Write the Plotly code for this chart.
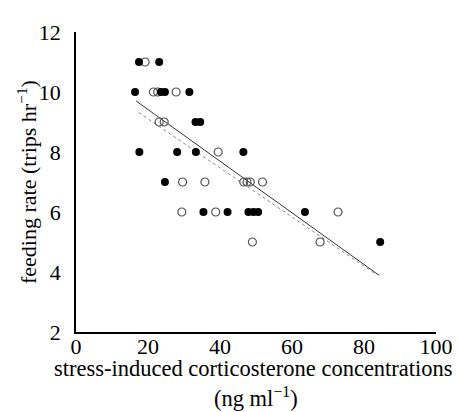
import plotly.graph_objects as go

# filled symbols
filled_x = [17.5, 23.1, 16.4, 23.6, 24.7, 31.5, 33.2, 34.5, 17.6, 28.1, 33.3, 46.5,
            24.7, 35.4, 42.1, 47.9, 49.3, 50.6, 63.6, 84.5]
filled_y = [11, 11, 10, 10, 10, 10, 9, 9, 8, 8, 8, 8,
            7, 6, 6, 6, 6, 6, 6, 5]
# open symbols
open_x = [19.2, 21.5, 22.7, 27.8, 23.1, 24.5, 39.5, 29.6, 35.8, 46.6, 47.5, 48.4,
          51.8, 29.4, 38.8, 72.8, 49.0, 67.8]
open_y = [11, 10, 10, 10, 9, 9, 8, 7, 7, 7, 7, 7,
          7, 6, 6, 6, 5, 5]
# regression lines
fit_solid_x = [16.7, 84.2]
fit_solid_y = [9.70, 3.89]
fit_dot_x = [17.4, 83.0]
fit_dot_y = [9.32, 3.95]

x_ticks = [0, 20, 40, 60, 80, 100]
y_ticks = [2, 4, 6, 8, 10, 12]

x_title_1 = "stress-induced corticosterone concentrations"
x_title_2 = "(ng ml<sup>−1</sup>)"
y_title = "feeding rate (trips hr<sup>−1</sup>)"

font = "Liberation Serif"

fig = go.Figure()
fig.add_trace(go.Scatter(x=fit_solid_x, y=fit_solid_y, mode="lines",
                         line=dict(color="#333333", width=1), showlegend=False))
fig.add_trace(go.Scatter(x=fit_dot_x, y=fit_dot_y, mode="lines",
                         line=dict(color="#888888", width=1, dash="dot"), showlegend=False))
fig.add_trace(go.Scatter(x=open_x, y=open_y, mode="markers",
                         marker=dict(symbol="circle-open", size=8, color="#555555",
                                     line=dict(color="#555555", width=1.2)),
                         showlegend=False))
fig.add_trace(go.Scatter(x=filled_x, y=filled_y, mode="markers",
                         marker=dict(symbol="circle", size=8, color="black"),
                         showlegend=False))

fig.add_annotation(text=x_title_1, xref="paper", yref="paper", x=0.5, y=0,
                   xanchor="center", yanchor="middle", yshift=-36, xshift=-3,
                   showarrow=False, font=dict(family=font, size=22.5, color="black"))
fig.add_annotation(text=x_title_2, xref="paper", yref="paper", x=0.5, y=0,
                   xanchor="center", yanchor="middle", yshift=-65,
                   showarrow=False, font=dict(family=font, size=22.5, color="black"))
fig.add_annotation(text=y_title, xref="paper", yref="paper", x=0, y=0.5,
                   xanchor="center", yanchor="middle", xshift=-49, textangle=-90,
                   showarrow=False, font=dict(family=font, size=22, color="black"))

fig.update_layout(
    width=460, height=412,
    margin=dict(l=68, r=32, t=14, b=88),
    paper_bgcolor="white", plot_bgcolor="white",
    font=dict(family=font, size=21, color="black"),
    xaxis=dict(range=[0, 100], tickvals=x_ticks, showgrid=False, zeroline=False,
               showline=True, linecolor="black", linewidth=1.5, ticks="", ticklen=0,
               ticklabelstandoff=-6,
               tickfont=dict(family=font, size=22)),
    yaxis=dict(range=[2, 12], tickvals=y_ticks, showgrid=False, zeroline=False,
               showline=True, linecolor="black", linewidth=1.5, ticks="", ticklen=0,
               ticklabelstandoff=9,
               tickfont=dict(family=font, size=22)),
)
fig.write_html("out.html")
